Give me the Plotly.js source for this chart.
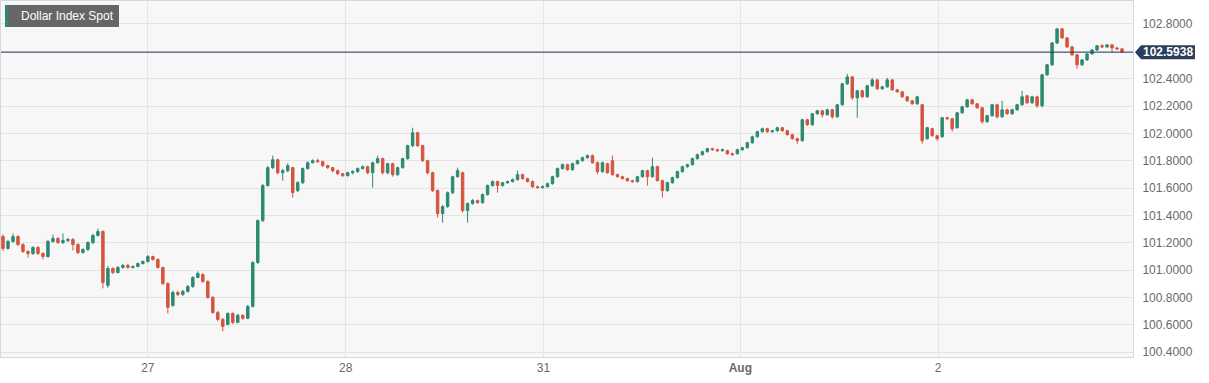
<!DOCTYPE html>
<html>
<head>
<meta charset="utf-8">
<script src="https://cdn.plot.ly/plotly-3.0.1.min.js"></script>
<style>
html,body{margin:0;padding:0;background:#ffffff;}
#chart{width:1209px;height:383px;}
</style>
</head>
<body>
<div id="chart"></div>
<script>
var chartTitle = 'Dollar Index Spot';
var lastPrice = 102.5938;
var dayLabels = ['27', '28', '31', '<b>Aug</b>', '2'];
var dayStarts = [29, 68.6, 108.2, 147.6, 187.2];
var priceTicks = [100.4, 100.6, 100.8, 101.0, 101.2, 101.4, 101.6, 101.8, 102.0, 102.2, 102.4, 102.6, 102.8];

var open = [
101.245,101.158,101.209,101.245,101.187,101.136,101.121,101.165,101.121,101.099,
101.209,101.231,101.201,101.216,101.223,101.187,101.128,101.150,101.201,101.253,
101.282,100.888,101.012,100.982,101.019,101.034,101.019,101.026,101.048,101.063,
101.099,101.077,101.019,100.902,100.742,100.836,100.822,100.844,100.880,100.946,
100.968,100.917,100.800,100.690,100.639,100.603,100.683,100.617,100.669,100.647,
100.734,101.055,101.362,101.618,101.749,101.807,101.712,101.727,101.749,101.581,
101.639,101.742,101.785,101.800,101.793,101.764,101.749,101.727,101.705,101.691,
101.712,101.720,101.742,101.756,101.712,101.785,101.815,101.712,101.778,101.698,
101.749,101.815,101.910,102.004,101.910,101.800,101.712,101.581,101.413,101.464,
101.566,101.683,101.712,101.435,101.486,101.508,101.493,101.552,101.618,101.647,
101.618,101.639,101.647,101.661,101.698,101.669,101.647,101.610,101.603,101.610,
101.632,101.683,101.742,101.771,101.734,101.778,101.800,101.822,101.837,101.785,
101.720,101.778,101.800,101.698,101.683,101.669,101.654,101.647,101.683,101.727,
101.683,101.756,101.654,101.581,101.639,101.676,101.720,101.756,101.771,101.815,
101.844,101.866,101.888,101.880,101.873,101.873,101.851,101.851,101.880,101.895,
101.931,101.975,102.012,102.034,102.012,102.019,102.041,102.019,101.990,101.961,
101.946,102.099,102.063,102.143,102.165,102.136,102.172,102.121,102.209,102.362,
102.413,102.260,102.311,102.267,102.348,102.391,102.326,102.340,102.391,102.318,
102.304,102.267,102.238,102.216,102.209,101.961,102.034,101.983,101.975,102.114,
102.107,102.041,102.150,102.194,102.245,102.216,102.187,102.085,102.129,102.209,
102.121,102.172,102.143,102.172,102.209,102.275,102.223,102.267,102.202,102.428,
102.501,102.661,102.764,102.698,102.632,102.574,102.501,102.537,102.581,102.610,
102.640,102.632,102.647,102.625,102.618];

var close = [
101.158,101.209,101.245,101.187,101.136,101.121,101.165,101.121,101.099,101.209,
101.231,101.201,101.216,101.223,101.187,101.128,101.150,101.201,101.253,101.282,
100.909,101.012,100.982,101.019,101.034,101.019,101.026,101.048,101.063,101.099,
101.077,101.019,100.902,100.727,100.836,100.822,100.844,100.880,100.946,100.975,
100.917,100.800,100.690,100.639,100.588,100.683,100.617,100.669,100.647,100.734,
101.055,101.362,101.618,101.749,101.807,101.712,101.727,101.764,101.566,101.639,
101.742,101.785,101.800,101.793,101.764,101.749,101.727,101.705,101.691,101.712,
101.720,101.742,101.756,101.712,101.785,101.815,101.712,101.778,101.698,101.749,
101.815,101.910,102.004,101.910,101.800,101.712,101.581,101.413,101.464,101.566,
101.683,101.727,101.435,101.486,101.508,101.493,101.552,101.618,101.647,101.618,
101.639,101.647,101.661,101.698,101.669,101.647,101.610,101.603,101.610,101.632,
101.683,101.742,101.771,101.734,101.778,101.800,101.822,101.837,101.785,101.720,
101.785,101.712,101.698,101.683,101.669,101.654,101.647,101.683,101.727,101.683,
101.756,101.654,101.581,101.639,101.676,101.720,101.756,101.771,101.815,101.844,
101.866,101.888,101.880,101.873,101.880,101.851,101.844,101.880,101.895,101.931,
101.975,102.012,102.034,102.012,102.019,102.041,102.019,101.990,101.961,101.946,
102.099,102.063,102.143,102.165,102.136,102.172,102.121,102.209,102.362,102.413,
102.260,102.311,102.267,102.348,102.391,102.326,102.340,102.391,102.318,102.304,
102.267,102.238,102.216,102.267,101.946,102.041,101.983,101.961,102.114,102.107,
102.034,102.150,102.194,102.245,102.216,102.187,102.085,102.129,102.209,102.121,
102.172,102.143,102.172,102.209,102.267,102.223,102.267,102.202,102.428,102.501,
102.661,102.764,102.698,102.632,102.574,102.501,102.537,102.581,102.610,102.640,
102.632,102.647,102.625,102.618,102.5938];

var high = [
101.26,101.22,101.267,101.255,101.195,101.145,101.175,101.175,101.13,101.22,
101.26,101.24,101.267,101.235,101.235,101.195,101.16,101.21,101.265,101.304,
101.29,101.03,101.02,101.03,101.045,101.045,101.035,101.055,101.07,101.11,
101.105,101.085,101.025,100.91,100.85,100.85,100.855,100.89,100.955,100.99,
100.975,100.925,100.81,100.70,100.65,100.69,100.69,100.68,100.675,100.745,
101.065,101.37,101.63,101.76,101.837,101.815,101.74,101.78,101.755,101.65,
101.75,101.795,101.81,101.815,101.80,101.77,101.755,101.735,101.71,101.72,
101.73,101.75,101.765,101.764,101.793,101.837,101.822,101.785,101.785,101.756,
101.822,101.917,102.041,102.012,101.917,101.807,101.72,101.59,101.475,101.575,
101.69,101.749,101.72,101.495,101.52,101.515,101.56,101.625,101.655,101.655,
101.645,101.655,101.67,101.727,101.705,101.675,101.655,101.618,101.618,101.64,
101.69,101.75,101.78,101.778,101.785,101.807,101.83,101.845,101.845,101.793,
101.793,101.785,101.837,101.705,101.69,101.676,101.661,101.69,101.734,101.734,
101.822,101.764,101.661,101.647,101.683,101.727,101.764,101.778,101.822,101.851,
101.873,101.895,101.895,101.888,101.888,101.88,101.859,101.888,101.902,101.939,
101.983,102.019,102.041,102.041,102.026,102.048,102.048,102.026,101.997,101.968,
102.107,102.107,102.15,102.172,102.172,102.18,102.18,102.216,102.37,102.435,
102.42,102.318,102.318,102.355,102.406,102.399,102.348,102.406,102.399,102.326,
102.311,102.275,102.245,102.275,102.216,102.048,102.041,101.99,102.121,102.121,
102.114,102.158,102.202,102.253,102.253,102.223,102.194,102.136,102.216,102.216,
102.238,102.18,102.18,102.216,102.311,102.282,102.275,102.275,102.435,102.508,
102.668,102.771,102.771,102.705,102.64,102.581,102.544,102.588,102.618,102.647,
102.654,102.654,102.654,102.632,102.625];

var low = [
101.14,101.15,101.20,101.175,101.125,101.092,101.11,101.11,101.077,101.09,
101.20,101.19,101.19,101.205,101.143,101.115,101.12,101.14,101.19,101.245,
100.866,100.87,100.97,100.975,101.01,101.01,101.01,101.02,101.04,101.055,
101.07,101.01,100.89,100.683,100.73,100.81,100.81,100.835,100.87,100.94,
100.905,100.79,100.68,100.625,100.552,100.595,100.605,100.61,100.635,100.64,
100.725,101.045,101.35,101.61,101.74,101.70,101.654,101.715,101.53,101.57,
101.63,101.735,101.78,101.785,101.755,101.74,101.715,101.695,101.68,101.683,
101.70,101.71,101.735,101.70,101.603,101.778,101.70,101.70,101.683,101.69,
101.742,101.807,101.90,101.90,101.79,101.70,101.57,101.384,101.347,101.455,
101.555,101.675,101.42,101.347,101.478,101.485,101.485,101.545,101.61,101.566,
101.61,101.63,101.64,101.655,101.66,101.64,101.60,101.595,101.595,101.603,
101.625,101.675,101.735,101.727,101.727,101.771,101.793,101.815,101.778,101.70,
101.712,101.705,101.69,101.676,101.661,101.647,101.639,101.639,101.676,101.618,
101.676,101.647,101.53,101.573,101.632,101.669,101.712,101.749,101.764,101.807,
101.837,101.859,101.873,101.866,101.866,101.844,101.837,101.844,101.873,101.888,
101.924,101.968,102.004,102.004,102.004,102.012,102.012,101.983,101.953,101.924,
101.939,102.055,102.055,102.136,102.114,102.129,102.107,102.114,102.202,102.355,
102.245,102.114,102.26,102.26,102.34,102.318,102.318,102.333,102.311,102.296,
102.26,102.23,102.209,102.209,101.924,101.953,101.975,101.946,101.968,102.099,
102.012,102.034,102.143,102.187,102.209,102.18,102.07,102.077,102.121,102.107,
102.114,102.136,102.136,102.165,102.202,102.216,102.216,102.187,102.19,102.42,
102.493,102.654,102.69,102.625,102.566,102.472,102.493,102.53,102.574,102.603,
102.625,102.625,102.588,102.61,102.588];

var bar = open.map(function (v, i) { return i; });

var upColor = '#2d8a72';
var downColor = '#d6543f';
var navy = '#2b3d5b';

var trace = {
  type: 'candlestick',
  x: bar,
  open: open, high: high, low: low, close: close,
  increasing: {line: {color: upColor, width: 1}, fillcolor: upColor},
  decreasing: {line: {color: downColor, width: 1}, fillcolor: downColor},
  whiskerwidth: 0,
  hoverinfo: 'skip',
  showlegend: false
};

var layout = {
  width: 1209, height: 383,
  margin: {l: 1, r: 76, t: 1, b: 26, pad: 0},
  paper_bgcolor: '#ffffff',
  plot_bgcolor: '#f7f7f7',
  font: {family: '"Liberation Sans", Arial, sans-serif', size: 12, color: '#666666'},
  showlegend: false,
  xaxis: {
    type: 'linear',
    range: [-0.4, 226.2],
    tickmode: 'array',
    tickvals: dayStarts,
    ticktext: dayLabels,
    showgrid: true, gridcolor: '#e4e4e4', gridwidth: 1,
    zeroline: false,
    showline: true, linecolor: '#d3d7e8', linewidth: 1, mirror: true,
    ticks: '',
    tickfont: {size: 12, color: '#6a6a6a'},
    rangeslider: {visible: false},
    fixedrange: true
  },
  yaxis: {
    side: 'right',
    range: [100.364, 102.968],
    tickmode: 'array',
    tickvals: priceTicks,
    ticktext: priceTicks.map(function (v) { return v.toFixed(4); }),
    showgrid: true, gridcolor: '#e4e4e4', gridwidth: 1,
    zeroline: false,
    showline: true, linecolor: '#d3d7e8', linewidth: 1, mirror: true,
    ticks: '',
    ticklabelstandoff: 6,
    tickfont: {size: 12, color: '#6a6a6a'},
    fixedrange: true
  },
  shapes: [
    {type: 'line', xref: 'paper', yref: 'y', x0: 0, x1: 1, y0: lastPrice, y1: lastPrice,
     line: {color: navy, width: 1}},
    {type: 'path', xref: 'paper', yref: 'y', xsizemode: 'pixel', ysizemode: 'pixel',
     xanchor: 1, yanchor: lastPrice,
     path: 'M 2,0 L 8,-7 L 62,-7 L 62,7 L 8,7 Z',
     fillcolor: navy, line: {width: 0}},
    {type: 'rect', xref: 'paper', yref: 'paper', xsizemode: 'pixel', ysizemode: 'pixel',
     xanchor: 0, yanchor: 1, x0: 4, x1: 118, y0: -4, y1: -26,
     fillcolor: '#666666', line: {width: 0}},
    {type: 'rect', xref: 'paper', yref: 'paper', xsizemode: 'pixel', ysizemode: 'pixel',
     xanchor: 0, yanchor: 1, x0: 4, x1: 7, y0: -4, y1: -26,
     fillcolor: '#2d8a72', line: {width: 0}}
  ],
  annotations: [
    {xref: 'paper', yref: 'paper', x: 0, y: 1, xshift: 18, yshift: -15,
     xanchor: 'left', yanchor: 'middle', showarrow: false,
     text: chartTitle, font: {size: 12, color: '#ffffff'}},
    {xref: 'paper', yref: 'y', x: 1, y: lastPrice, xshift: 35,
     xanchor: 'center', yanchor: 'middle', showarrow: false,
     text: '<b>' + lastPrice.toFixed(4) + '</b>', font: {size: 12, color: '#ffffff'}}
  ]
};

Plotly.newPlot('chart', [trace], layout, {displayModeBar: false, staticPlot: true});
</script>
</body>
</html>
